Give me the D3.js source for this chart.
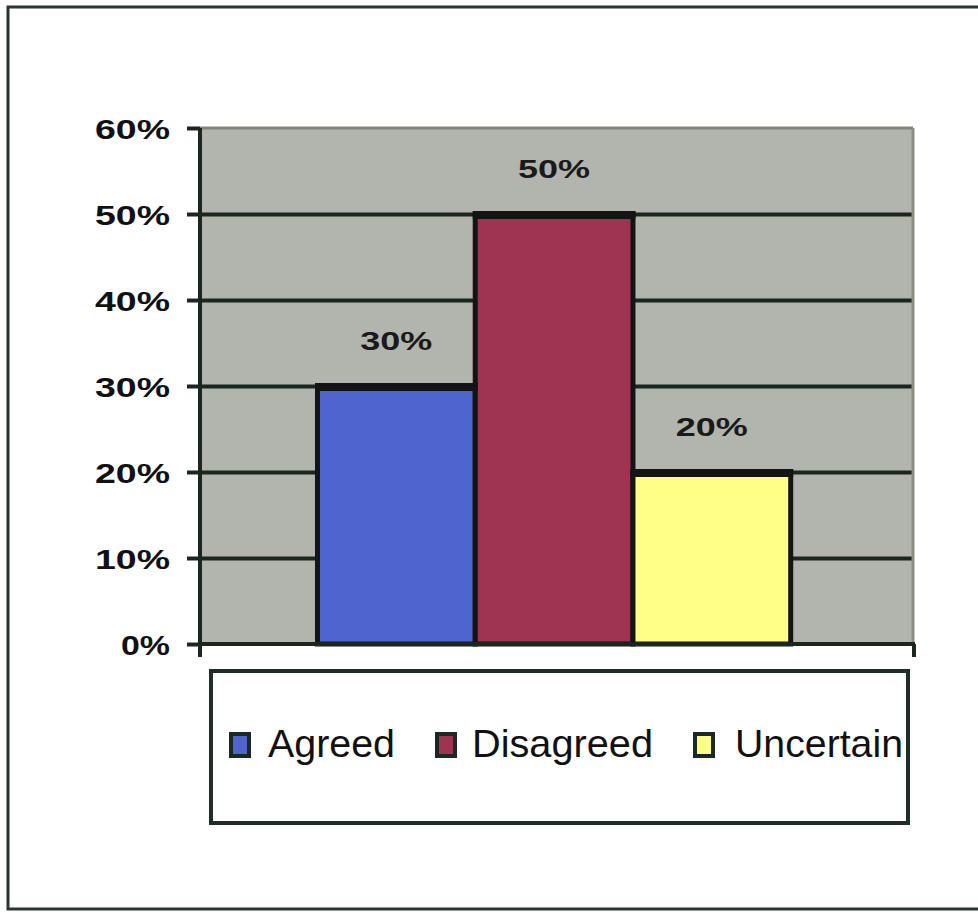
<!DOCTYPE html>
<html>
<head>
<meta charset="utf-8">
<script src="https://cdn.jsdelivr.net/npm/d3@7"></script>
<style>
  html, body { margin: 0; padding: 0; background: #ffffff; }
  svg { display: block; }
</style>
</head>
<body>
<svg id="chart" width="978" height="915"></svg>
<script>
// Survey responses, share of respondents
const categories = ["Agreed", "Disagreed", "Uncertain"];
const values = [0.30, 0.50, 0.20];
const colors = ["#5064cf", "#9f3352", "#ffff88"];
const tickValues = [0, 0.1, 0.2, 0.3, 0.4, 0.5, 0.6];

const svg = d3.select("#chart");
const ink = "#1b261f";
const fontFamily = "Liberation Sans, Arial, sans-serif";

// outer frame
svg.append("rect")
  .attr("x", 8).attr("y", 7)
  .attr("width", 990).attr("height", 902)
  .attr("fill", "#ffffff")
  .attr("stroke", "#2a3432").attr("stroke-width", 3);

const plot = { left: 200, right: 913, top: 128, bottom: 644 };

const y = d3.scaleLinear().domain([0, 0.6]).range([plot.bottom, plot.top]);
const x = d3.scaleBand().domain(categories)
  .range([plot.left, plot.right])
  .paddingInner(0).paddingOuter(0.76).align(0.49);

// plot background
svg.append("rect")
  .attr("x", plot.left).attr("y", plot.top)
  .attr("width", plot.right - plot.left).attr("height", plot.bottom - plot.top)
  .attr("fill", "#b2b5ad");

// horizontal gridlines
const grid = svg.append("g")
  .attr("transform", `translate(${plot.left},0)`)
  .call(d3.axisLeft(y).tickValues(tickValues.filter(v => v > 0 && v < 0.6))
    .tickSize(-(plot.right - plot.left)).tickFormat(""));
grid.select(".domain").remove();
grid.selectAll("line").attr("stroke", ink).attr("stroke-width", 4);

// top and right edges of the plot area
svg.append("line")
  .attr("x1", plot.left).attr("x2", plot.right)
  .attr("y1", y(0.6)).attr("y2", y(0.6))
  .attr("stroke", "#84847a").attr("stroke-width", 3);
svg.append("line")
  .attr("x1", plot.right).attr("x2", plot.right)
  .attr("y1", plot.top).attr("y2", plot.bottom)
  .attr("stroke", "#8c8c84").attr("stroke-width", 3);

// bars
svg.selectAll("rect.bar")
  .data(categories)
  .join("rect")
  .attr("class", "bar")
  .attr("x", d => x(d))
  .attr("y", (d, i) => y(values[i]))
  .attr("width", x.bandwidth())
  .attr("height", (d, i) => y(0) - y(values[i]))
  .attr("fill", (d, i) => colors[i])
  .attr("stroke", "#141414").attr("stroke-width", 5);

// heavier top edge of each bar
svg.selectAll("line.bar-top")
  .data(categories)
  .join("line")
  .attr("class", "bar-top")
  .attr("x1", d => x(d) - 2.5)
  .attr("x2", d => x(d) + x.bandwidth() + 2.5)
  .attr("y1", (d, i) => y(values[i]) + 1)
  .attr("y2", (d, i) => y(values[i]) + 1)
  .attr("stroke", "#141414").attr("stroke-width", 8);

// value labels above bars
svg.selectAll("text.value")
  .data(categories)
  .join("text")
  .attr("class", "value")
  .attr("x", d => x(d) + x.bandwidth() / 2)
  .attr("y", (d, i) => y(values[i]) - 36)
  .attr("text-anchor", "middle")
  .attr("font-family", fontFamily)
  .attr("font-weight", "bold")
  .attr("font-size", 26)
  .attr("fill", "#1a1a1a")
  .attr("textLength", 72)
  .attr("lengthAdjust", "spacingAndGlyphs")
  .text((d, i) => d3.format(".0%")(values[i]));

// y axis
const yAxis = svg.append("g")
  .attr("transform", `translate(${plot.left},0)`)
  .call(d3.axisLeft(y).tickValues(tickValues).tickSize(13).tickPadding(17)
    .tickFormat(d3.format(".0%")));
yAxis.select(".domain").remove();
yAxis.selectAll("line").attr("stroke", ink).attr("stroke-width", 4);
yAxis.selectAll("text")
  .attr("font-family", fontFamily)
  .attr("font-weight", "bold")
  .attr("font-size", 28)
  .attr("fill", "#111111")
  .attr("dy", "0.36em")
  .attr("textLength", d => d === 0 ? 49 : 75)
  .attr("lengthAdjust", "spacingAndGlyphs");

svg.append("line")
  .attr("x1", plot.left).attr("x2", plot.left)
  .attr("y1", plot.top).attr("y2", plot.bottom + 13)
  .attr("stroke", ink).attr("stroke-width", 4);

// x axis baseline with end tick
svg.append("line")
  .attr("x1", plot.left).attr("x2", plot.right + 2)
  .attr("y1", plot.bottom).attr("y2", plot.bottom)
  .attr("stroke", ink).attr("stroke-width", 4);
svg.append("line")
  .attr("x1", plot.right + 1).attr("x2", plot.right + 1)
  .attr("y1", plot.bottom).attr("y2", plot.bottom + 13)
  .attr("stroke", ink).attr("stroke-width", 4);

// legend
const legend = { x: 211, y: 671, w: 697, h: 152 };
svg.append("rect")
  .attr("x", legend.x).attr("y", legend.y)
  .attr("width", legend.w).attr("height", legend.h)
  .attr("fill", "#ffffff")
  .attr("stroke", "#1f2d28").attr("stroke-width", 4);

const legendItems = [
  { sx: 231, tx: 268, tw: 127 },
  { sx: 437, tx: 472, tw: 181 },
  { sx: 695, tx: 735, tw: 168 }
];
const lg = svg.selectAll("g.legend-item")
  .data(categories)
  .join("g")
  .attr("class", "legend-item");
lg.append("rect")
  .attr("x", (d, i) => legendItems[i].sx)
  .attr("y", 734)
  .attr("width", 18).attr("height", 22)
  .attr("fill", (d, i) => colors[i])
  .attr("stroke", "#1c2822").attr("stroke-width", 4);
lg.append("text")
  .attr("x", (d, i) => legendItems[i].tx)
  .attr("y", 757)
  .attr("font-family", fontFamily)
  .attr("font-size", 39)
  .attr("fill", "#111111")
  .attr("textLength", (d, i) => legendItems[i].tw)
  .attr("lengthAdjust", "spacingAndGlyphs")
  .text(d => d);
</script>
</body>
</html>
